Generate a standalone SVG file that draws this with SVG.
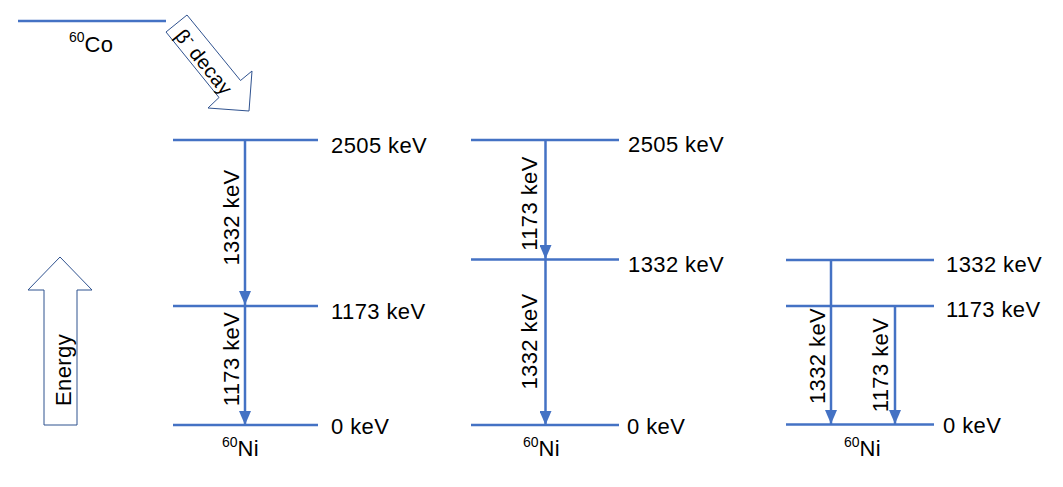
<svg xmlns="http://www.w3.org/2000/svg" width="1063" height="487" viewBox="0 0 1063 487">
<style>
.lvl{stroke:#4472C4;stroke-width:2.5;fill:none}
.tr{stroke:#4472C4;stroke-width:2.5;fill:none;marker-end:url(#ah)}
.ol{fill:#fff;stroke:#2F528F;stroke-width:1}
text{font-family:"Liberation Sans",Arial,sans-serif;font-size:22px;fill:#000;letter-spacing:0.4px}
.sup{font-size:14px;letter-spacing:0}
.mid{text-anchor:middle}
</style>
<defs>
<marker id="ah" viewBox="0 0 14 12" refX="14" refY="6" markerWidth="14" markerHeight="12" markerUnits="userSpaceOnUse" orient="auto">
<path d="M0,0 L14,6 L0,12 z" fill="#4472C4"/>
</marker>
</defs>
<rect width="1063" height="487" fill="#fff"/>

<g id="co60">
<line class="lvl" x1="18" y1="21" x2="166" y2="21"/>
<text x="69" y="51.5"><tspan class="sup" dy="-9.5">60</tspan><tspan dy="9.5">Co</tspan></text>
</g>

<g id="beta-arrow">
<polygon class="ol" points="166,32 187,15 240.5,80.5 252,71 249,111 208,108 219,97.5"/>
<text transform="translate(204,62) rotate(51)" class="mid" y="7" style="font-size:20px">β<tspan class="sup" dy="-8">-</tspan><tspan dy="8"> decay</tspan></text>
</g>

<g id="energy-arrow">
<polygon class="ol" points="44,425 44,290 28,290 60,257 92,290 77,290 77,425"/>
<text transform="translate(71,370) rotate(-90)" class="mid">Energy</text>
</g>

<g id="scheme1">
<line class="lvl" x1="173" y1="140" x2="318" y2="140"/>
<line class="lvl" x1="173" y1="306" x2="318" y2="306"/>
<line class="lvl" x1="173" y1="425" x2="318" y2="425"/>
<text x="331" y="152.5">2505 keV</text>
<text x="331" y="318.5">1173 keV</text>
<text x="331" y="433.5">0 keV</text>
<text transform="translate(239,217.5) rotate(-90)" class="mid">1332 keV</text>
<text transform="translate(239,359) rotate(-90)" class="mid">1173 keV</text>
<text x="222" y="456"><tspan class="sup" dy="-9.5">60</tspan><tspan dy="9.5">Ni</tspan></text>
</g>

<g id="scheme2">
<line class="lvl" x1="471" y1="140" x2="619" y2="140"/>
<line class="lvl" x1="471" y1="259.5" x2="619" y2="259.5"/>
<line class="lvl" x1="471" y1="425" x2="619" y2="425"/>
<text x="628" y="152">2505 keV</text>
<text x="628" y="271.5">1332 keV</text>
<text x="627" y="434">0 keV</text>
<text transform="translate(537,203.5) rotate(-90)" class="mid">1173 keV</text>
<text transform="translate(537,341.5) rotate(-90)" class="mid">1332 keV</text>
<text x="523" y="456"><tspan class="sup" dy="-9.5">60</tspan><tspan dy="9.5">Ni</tspan></text>
</g>

<g id="scheme3">
<line class="lvl" x1="786" y1="260" x2="934" y2="260"/>
<line class="lvl" x1="786" y1="306" x2="934" y2="306"/>
<line class="lvl" x1="786" y1="424.5" x2="934" y2="424.5"/>
<text x="946" y="271.5">1332 keV</text>
<text x="946" y="316.5">1173 keV</text>
<text x="943" y="433">0 keV</text>
<text transform="translate(825,356) rotate(-90)" class="mid">1332 keV</text>
<text transform="translate(888,365) rotate(-90)" class="mid">1173 keV</text>
<text x="844" y="456"><tspan class="sup" dy="-9.5">60</tspan><tspan dy="9.5">Ni</tspan></text>
</g>

<g id="connectors">
<line class="tr" x1="245" y1="140" x2="245" y2="305"/>
<line class="tr" x1="245" y1="306" x2="245" y2="425"/>
<line class="tr" x1="545.5" y1="140" x2="545.5" y2="259"/>
<line class="tr" x1="545.5" y1="260" x2="545.5" y2="425"/>
<line class="tr" x1="831" y1="260" x2="831" y2="424"/>
<line class="tr" x1="895" y1="306" x2="895" y2="424"/>
</g>
</svg>
